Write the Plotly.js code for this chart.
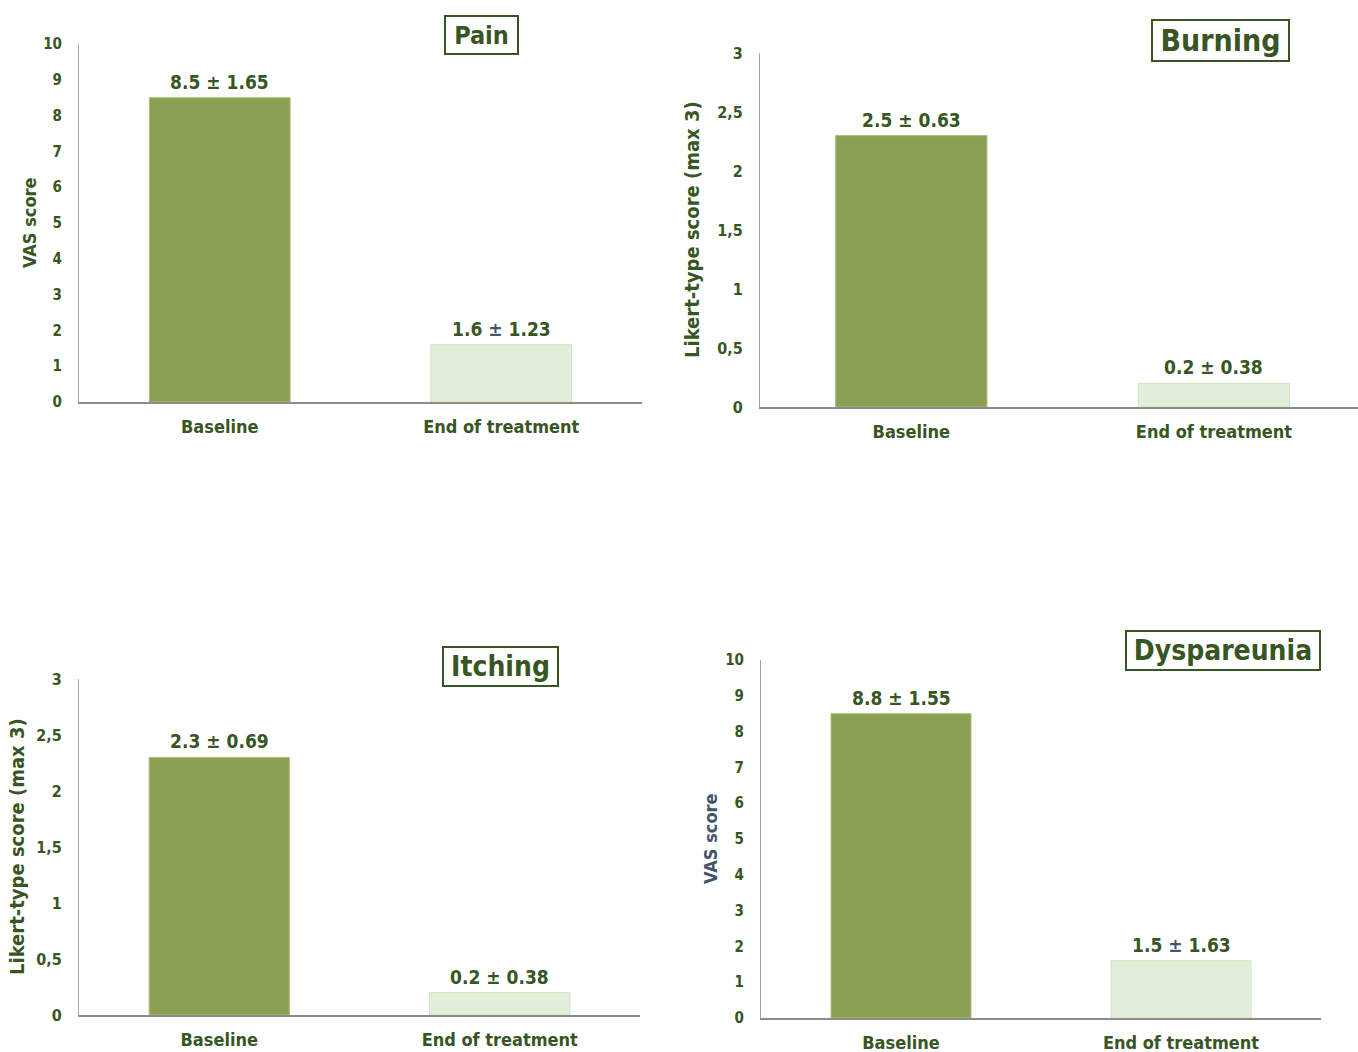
<!DOCTYPE html>
<html>
<head>
<meta charset="utf-8">
<script src="https://cdn.plot.ly/plotly-3.0.1.min.js"></script>
<style>
html,body{margin:0;padding:0;background:#fff;}
#chart{width:1358px;height:1052px;}
</style>
</head>
<body>
<div id="chart"></div>
<script>
// ---- data ----
const categories = ['Baseline', 'End of treatment'];

const painValues = [8.5, 1.6];
const painLabels = ['8.5 ± 1.65', '1.6 <span style="color:#44546A">±</span> 1.23'];

const burningValues = [2.3, 0.2];
const burningLabels = ['2.5 ± 0.63', '0.2 ± 0.38'];

const itchingValues = [2.3, 0.2];
const itchingLabels = ['2.3 ± 0.69', '0.2 ± 0.38'];

const dyspValues = [8.5, 1.6];
const dyspLabels = ['8.8 ± 1.55', '1.5 <span style="color:#44546A">±</span> 1.63'];

const vasTicks = [0, 1, 2, 3, 4, 5, 6, 7, 8, 9, 10];
const vasTickText = ['0', '1', '2', '3', '4', '5', '6', '7', '8', '9', '10'];
const likertTicks = [0, 0.5, 1, 1.5, 2, 2.5, 3];
const likertTickText = ['0', '0,5', '1', '1,5', '2', '2,5', '3'];

const panelTitles = ['Pain', 'Burning', 'Itching', 'Dyspareunia'];
const yTitles = ['VAS score', 'Likert-type score (max 3)', 'Likert-type score (max 3)', 'VAS score'];

// ---- styling ----
const W = 1358, H = 1052;
const FONT = '"DejaVu Sans Condensed", "DejaVu Sans", sans-serif';
const GREEN = '#375623';
const SLATE = '#44546A';
const barColors = ['#8BA052', '#E2EFDA'];
const barLines = ['#A9C17A', '#CFE3C0'];

function px(x) { return x / W; }
function py(y) { return (H - y) / H; }

const panels = [
  {vals: painValues, labels: painLabels, x: [79, 642], y: [44, 402], xr: [-0.5, 1.5], yr: [0, 10], tv: vasTicks, tt: vasTickText, tfs: 15, ytitle: yTitles[0], ytc: GREEN, ytx: 29, ytfs: 18,
   title: panelTitles[0], box: [444, 15, 519, 55], tfont: 25},
  {vals: burningValues, labels: burningLabels, x: [760, 1358], y: [53, 407], xr: [-0.5, 1.476], yr: [0, 3], tv: likertTicks, tt: likertTickText, tfs: 16, ytitle: yTitles[1], ytc: GREEN, ytx: 692, ytfs: 20,
   title: panelTitles[1], box: [1151, 19, 1290, 62], tfont: 30},
  {vals: itchingValues, labels: itchingLabels, x: [79, 640], y: [679, 1015], xr: [-0.5, 1.5], yr: [0, 3], tv: likertTicks, tt: likertTickText, tfs: 16, ytitle: yTitles[2], ytc: GREEN, ytx: 17, ytfs: 20,
   title: panelTitles[2], box: [442, 646, 559, 687], tfont: 28},
  {vals: dyspValues, labels: dyspLabels, x: [761, 1321], y: [660, 1018], xr: [-0.5, 1.5], yr: [0, 10], tv: vasTicks, tt: vasTickText, tfs: 15, ytitle: yTitles[3], ytc: SLATE, ytx: 710, ytfs: 18,
   title: panelTitles[3], box: [1125, 630, 1321, 671], tfont: 28}
];

const data = [];
const layout = {
  width: W, height: H,
  margin: {l: 0, r: 0, t: 0, b: 0},
  paper_bgcolor: '#ffffff', plot_bgcolor: 'rgba(0,0,0,0)',
  showlegend: false,
  font: {family: FONT, color: GREEN, weight: 'bold'},
  annotations: []
};

panels.forEach((p, i) => {
  const n = i + 1;
  const xa = n === 1 ? 'x' : 'x' + n;
  const ya = n === 1 ? 'y' : 'y' + n;
  const xk = n === 1 ? 'xaxis' : 'xaxis' + n;
  const yk = n === 1 ? 'yaxis' : 'yaxis' + n;

  data.push({
    type: 'bar', x: categories, y: p.vals, xaxis: xa, yaxis: ya,
    width: 0.5,
    marker: {color: barColors, line: {color: barLines, width: 1}},
    hoverinfo: 'skip'
  });

  layout[xk] = {
    domain: [px(p.x[0]), px(p.x[1])], anchor: ya,
    range: p.xr, type: 'category',
    showgrid: false, zeroline: false,
    showline: true, linecolor: '#8C8C8C', linewidth: 2,
    ticks: '', ticklabelstandoff: 7,
    tickfont: {family: FONT, size: 18, color: GREEN, weight: 'bold'},
    fixedrange: true
  };
  layout[yk] = {
    domain: [py(p.y[1]), py(p.y[0])], anchor: xa,
    range: p.yr, tickvals: p.tv, ticktext: p.tt,
    showgrid: false, zeroline: false,
    showline: true, linecolor: '#A6A6A6', linewidth: 1,
    ticks: '', ticklabelstandoff: 13,
    tickfont: {family: FONT, size: p.tfs, color: GREEN, weight: 'bold'},
    fixedrange: true
  };

  // y-axis title
  layout.annotations.push({
    xref: 'paper', yref: 'paper',
    x: px(p.ytx), y: (py(p.y[0]) + py(p.y[1])) / 2,
    text: p.ytitle, textangle: -90, showarrow: false,
    xanchor: 'center', yanchor: 'middle',
    font: {family: FONT, size: p.ytfs, color: p.ytc, weight: 'bold'}
  });

  // value labels
  p.vals.forEach((v, j) => {
    layout.annotations.push({
      xref: xa, yref: ya, x: categories[j], y: v,
      text: p.labels[j], showarrow: false,
      xanchor: 'center', yanchor: 'bottom', yshift: 3,
      font: {family: FONT, size: 19, color: GREEN, weight: 'bold'}
    });
  });

  // boxed panel title
  const b = p.box;
  layout.annotations.push({
    xref: 'paper', yref: 'paper',
    x: px((b[0] + b[2]) / 2), y: py((b[1] + b[3]) / 2),
    xanchor: 'center', yanchor: 'middle',
    text: p.title, showarrow: false,
    width: b[2] - b[0] - 4, height: b[3] - b[1] - 4,
    borderpad: 0, borderwidth: 2, bordercolor: GREEN, bgcolor: '#ffffff',
    font: {family: FONT, size: p.tfont, color: GREEN, weight: 'bold'}
  });
});

Plotly.newPlot('chart', data, layout, {displayModeBar: false, staticPlot: true});
</script>
</body>
</html>
